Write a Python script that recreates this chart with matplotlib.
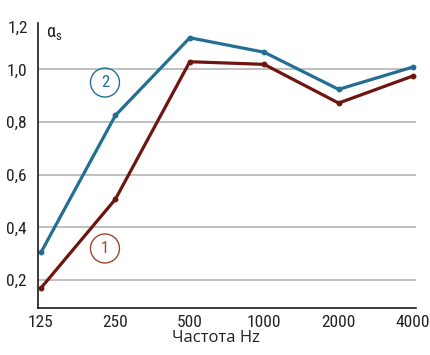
import matplotlib.pyplot as plt

freqs = ['125', '250', '500', '1000', '2000', '4000']
alpha_2 = [0.305, 0.825, 1.12, 1.065, 0.924, 1.009]
alpha_1 = [0.17, 0.507, 1.029, 1.019, 0.872, 0.975]
yticks = [0.2, 0.4, 0.6, 0.8, 1.0]
ytick_labels = ['0,2', '0,4', '0,6', '0,8', '1,0']

blue = '#236f93'
red = '#6e1510'
circle_red = '#a0452e'
txt = '#222222'

plt.rcParams['font.family'] = ['Roboto Condensed', 'Roboto', 'DejaVu Sans']

fig = plt.figure(figsize=(4.31, 3.55), dpi=100)
ax = fig.add_axes([38 / 431, 1 - 308 / 355, (416 - 38) / 431, (308 - 23) / 355])

x = list(range(len(freqs)))
ax.plot(x, alpha_2, color=blue, lw=2.3, marker='o', ms=3.2)
ax.plot(x, alpha_1, color=red, lw=2.3, marker='o', ms=3.2)

ax.set_xlim(-0.04, 5.04)
ax.set_ylim(0.094, 1.176)
ax.set_yticks(yticks)
ax.set_yticklabels(ytick_labels)
ax.set_xticks(x)
ax.set_xticklabels(freqs)
ax.tick_params(length=0, labelsize=12.5, colors=txt)
ax.tick_params(axis='x', pad=5)
ax.tick_params(axis='y', pad=8)
ax.yaxis.grid(True, color='#b5b5b5', lw=1.2)
ax.set_axisbelow(True)
for s in ['top', 'right']:
    ax.spines[s].set_visible(False)
for s in ['left', 'bottom']:
    ax.spines[s].set_color('#1a1a1a')
    ax.spines[s].set_linewidth(1.2)

# top value label and axis symbol
fig.text(18 / 431, 1 - 28 / 355, '1,2', ha='center', va='center', fontsize=12.5, color=txt)
fig.text(46 / 431, 1 - 33 / 355, r'$\mathregular{\alpha_s}$', ha='left', va='center',
         fontsize=13, color=txt)

# curve numbers
ax.text(0.86, 0.95, '2', ha='center', va='center', fontsize=12, color=blue,
        bbox=dict(boxstyle='circle,pad=0.42', fc='none', ec=blue, lw=1.0))
ax.text(0.86, 0.32, '1', ha='center', va='center', fontsize=12, color=circle_red,
        bbox=dict(boxstyle='circle,pad=0.42', fc='none', ec=circle_red, lw=1.0))

fig.text(216 / 431, 1 - 338 / 355, 'Частота Hz', ha='center', va='center',
         fontsize=12, color=txt, family=['Open Sans', 'DejaVu Sans'])

fig.savefig('out.png', dpi=100)
